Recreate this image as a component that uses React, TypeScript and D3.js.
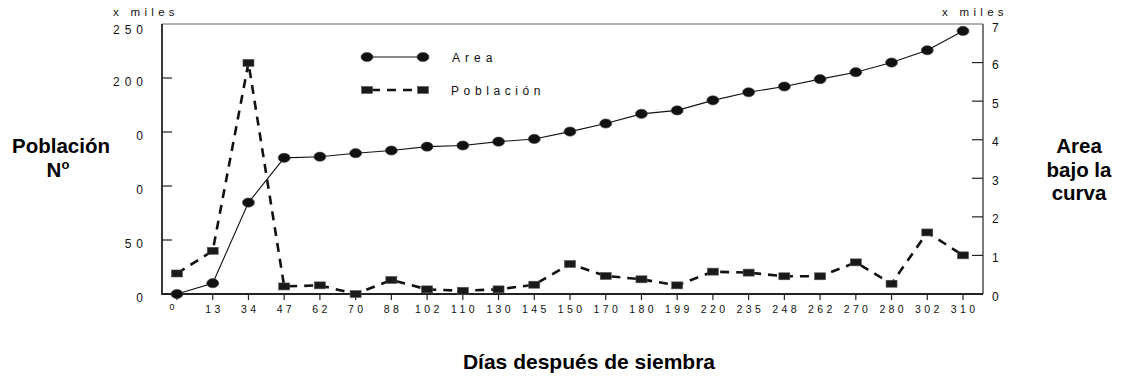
import React from "react";
import * as d3 from "d3";

// Sampling days (categorical x axis)
const days = ["0", "13", "34", "47", "62", "70", "88", "102", "110", "130", "145", "150", "170", "180", "199", "220", "235", "248", "262", "270", "280", "302", "310"];

// Area bajo la curva (x miles), right axis
const area = [0, 0.28, 2.37, 3.53, 3.56, 3.65, 3.72, 3.82, 3.85, 3.95, 4.02, 4.21, 4.42, 4.67, 4.76, 5.02, 5.23, 5.38, 5.57, 5.75, 6.0, 6.32, 6.82];

// Población (x miles), left axis
const poblacion = [19, 40, 214, 7, 8, 0, 13, 4.3, 3, 4.3, 8.6, 27.8, 16.7, 13.6, 8, 20.7, 19.8, 16.4, 16.4, 29.3, 9.5, 57, 35.8];

// Left axis ticks and the labels printed beside them
const leftTicks = [250, 200, 150, 100, 50, 0];
const leftTickLabels = ["250", "200", "0", "0", "50", "0"];

// Right axis ticks
const rightTicks = [0, 1, 2, 3, 4, 5, 6, 7];

const W = 1124;
const H = 379;
const L = 162, R = 983, T = 24, B = 294;
const FONT = "Arial, 'Liberation Sans', sans-serif";

export default function App() {
  const x = d3.scalePoint<string>().domain(days).range([177, 963]);
  const yL = d3.scaleLinear().domain([0, 250]).range([B, T]);
  const yR = d3.scaleLinear().domain([0, 7]).range([B, T]);

  const areaLine = d3
    .line<number>()
    .x((_, i) => x(days[i]) as number)
    .y((d) => yR(d));
  const popLine = d3
    .line<number>()
    .x((_, i) => x(days[i]) as number)
    .y((d) => yL(d));

  const circle = (cx: number, cy: number, k: string) => (
    <ellipse key={k} cx={cx} cy={cy} rx={6} ry={4.6} fill="#111" stroke="#444" strokeWidth={0.6} />
  );
  const square = (cx: number, cy: number, k: string) => (
    <rect key={k} x={cx - 5.5} y={cy - 3.5} width={11} height={7} fill="#1a1a1a" stroke="#555" strokeWidth={0.6} />
  );

  return (
    <svg width={W} height={H} style={{ position: "absolute", left: 0, top: 0, background: "#fff" }} fontFamily={FONT}>
      <rect x={0} y={0} width={W} height={H} fill="#fff" />

      {/* "x miles" unit labels */}
      <text x={113} y={16} fontSize={11.5} letterSpacing={4.3} fill="#111">x miles</text>
      <text x={942} y={16} fontSize={11.5} letterSpacing={4.3} fill="#111">x miles</text>

      {/* Plot frame */}
      <line x1={L} y1={T} x2={R} y2={T} stroke="#666" strokeWidth={1.2} />
      <line x1={R} y1={T} x2={R} y2={B} stroke="#444" strokeWidth={1.4} />
      <line x1={L} y1={T} x2={L} y2={B + 1} stroke="#222" strokeWidth={1.8} />
      <line x1={L} y1={B} x2={R} y2={B} stroke="#222" strokeWidth={1.8} />

      {/* Left axis */}
      {leftTicks.map((v, i) => (
        <g key={"lt" + i}>
          {v !== 0 && v !== 250 && <line x1={L} x2={L + 10} y1={yL(v)} y2={yL(v)} stroke="#222" strokeWidth={1.2} />}
          <text x={148} y={yL(v) + (v === 250 ? 10 : 7.5)} fontSize={12} letterSpacing={5} textAnchor="end" fill="#111">
            {leftTickLabels[i]}
          </text>
        </g>
      ))}

      {/* Right axis */}
      {rightTicks.map((v) => (
        <g key={"rt" + v}>
          {v !== 0 && v !== 7 && <line x1={R - 11} x2={R} y1={yR(v)} y2={yR(v)} stroke="#222" strokeWidth={1.2} />}
          <text x={992} y={yR(v) + (v === 7 ? 8 : 6.5)} fontSize={12} fill="#111">{v}</text>
        </g>
      ))}

      {/* X axis ticks and labels */}
      {days.map((d) => (
        <g key={"xt" + d}>
          <line x1={x(d)} x2={x(d)} y1={B} y2={B + 6} stroke="#222" strokeWidth={1.2} />
          <text
            x={(x(d) as number) + (d === "0" ? -5 : 1.7)}
            y={d === "0" ? 310 : 313}
            fontSize={d === "0" ? 9 : 10.5}
            letterSpacing={d === "0" ? 0 : 3.4}
            textAnchor="middle"
            fill="#111"
          >
            {d}
          </text>
        </g>
      ))}

      {/* Población series (dashed, squares) */}
      <path d={popLine(poblacion) || ""} fill="none" stroke="#111" strokeWidth={2.6} strokeDasharray="9,7" />
      {poblacion.map((v, i) => square(x(days[i]) as number, yL(v), "ps" + i))}

      {/* Area series (solid, circles) */}
      <path d={areaLine(area) || ""} fill="none" stroke="#111" strokeWidth={1.1} />
      {area.map((v, i) => circle(x(days[i]) as number, yR(v), "ac" + i))}

      {/* Legend */}
      <line x1={367} x2={423} y1={57} y2={57} stroke="#111" strokeWidth={1.1} />
      {circle(367, 57, "lg1")}
      {circle(423, 57, "lg2")}
      <text x={452} y={62} fontSize={12} letterSpacing={5} fill="#111">Area</text>

      <line x1={367} x2={423} y1={90} y2={90} stroke="#111" strokeWidth={2.6} strokeDasharray="9,7" strokeDashoffset={-4} />
      {square(367, 90, "lg3")}
      {square(423, 90, "lg4")}
      <text x={451} y={95} fontSize={12} letterSpacing={4.6} fill="#111">Población</text>

      {/* Axis titles */}
      <text x={61} y={153} fontSize={20.5} fontWeight="bold" textAnchor="middle" fill="#000">Población</text>
      <text x={58} y={177} fontSize={20.5} fontWeight="bold" textAnchor="middle" fill="#000">
        N<tspan fontSize={13} dy={-8}>o</tspan>
      </text>

      <text x={1079} y={153} fontSize={20.5} fontWeight="bold" textAnchor="middle" fill="#000">Area</text>
      <text x={1079} y={177} fontSize={20.5} fontWeight="bold" textAnchor="middle" fill="#000">bajo la</text>
      <text x={1079} y={200} fontSize={20.5} fontWeight="bold" textAnchor="middle" fill="#000">curva</text>

      <text x={589} y={369} fontSize={21} fontWeight="bold" textAnchor="middle" fill="#000">Días después de siembra</text>
    </svg>
  );
}
